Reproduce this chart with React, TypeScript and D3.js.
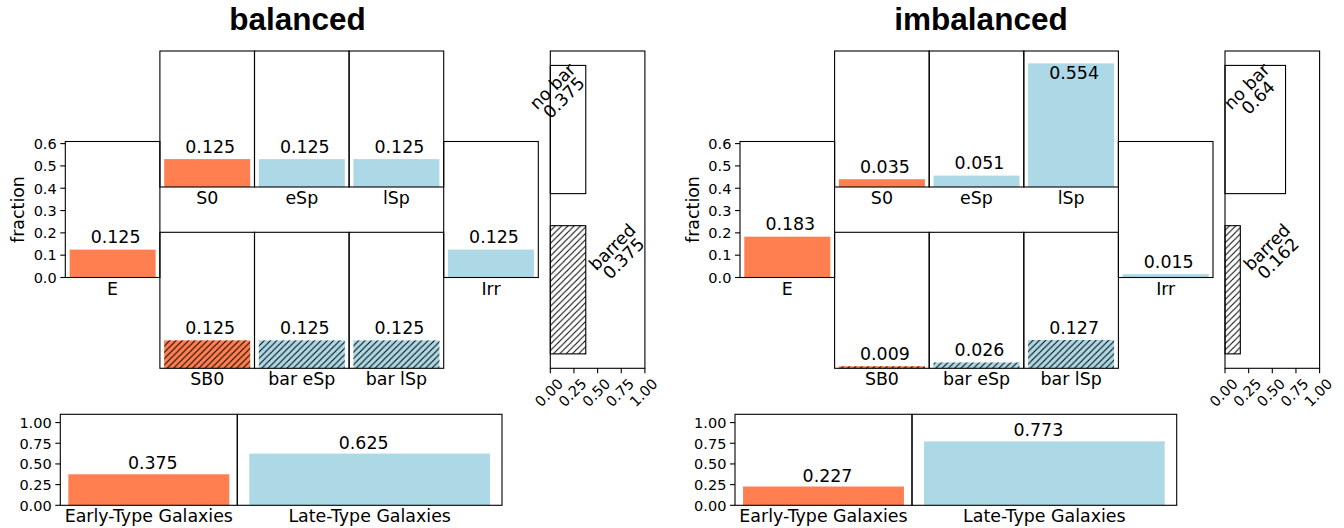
import React from "react";
import * as d3 from "d3";

// Morphological classes and their fractions in each training set
const morphTypes = ["E", "S0", "eSp", "lSp", "SB0", "bar eSp", "bar lSp", "Irr"];
const balancedFractions = [0.125, 0.125, 0.125, 0.125, 0.125, 0.125, 0.125, 0.125];
const imbalancedFractions = [0.183, 0.035, 0.051, 0.554, 0.009, 0.026, 0.127, 0.015];

// Bar / no-bar split
const barClasses = ["no bar", "barred"];
const balancedBarFractions = [0.375, 0.375];
const imbalancedBarFractions = [0.64, 0.162];

// Early / late split
const galaxyClasses = ["Early-Type Galaxies", "Late-Type Galaxies"];
const balancedClassFractions = [0.375, 0.625];
const imbalancedClassFractions = [0.227, 0.773];

const panelTitles = ["balanced", "imbalanced"];

const fractionTicks = [0, 0.1, 0.2, 0.3, 0.4, 0.5, 0.6];
const barTicks = [0, 0.25, 0.5, 0.75, 1];
const classTicks = [0, 0.25, 0.5, 0.75, 1];

// ---- styling & layout ----
const CORAL = "#FF7F50";
const LIGHTBLUE = "#ADD8E6";
const FONT = "'DejaVu Sans', sans-serif";
const FS = 17.4;
const TICK_FS = 14.5;
const SPINE = 1.1;
const Y_MAX = 0.6094;
const COL_W = 94.6;
const ROW_H = 136;
const HATCH = 6.3;

const placement: Record<string, { col: number; row: "top" | "mid" | "bot" }> = {
  E: { col: 0, row: "mid" },
  S0: { col: 1, row: "top" },
  eSp: { col: 2, row: "top" },
  lSp: { col: 3, row: "top" },
  SB0: { col: 1, row: "bot" },
  "bar eSp": { col: 2, row: "bot" },
  "bar lSp": { col: 3, row: "bot" },
  Irr: { col: 4, row: "mid" },
};
const rowTop = { top: 51, mid: 141.5, bot: 232.3 };
const earlyTypes = new Set(["E", "S0", "SB0"]);
const barredTypes = new Set(["SB0", "bar eSp", "bar lSp"]);
const barLabelAlign: Record<string, "left" | "right"> = { "no bar": "right", barred: "left" };
const classLabelShift = [4, -6];

const fmt = (v: number) => String(Math.round(v * 1000) / 1000);

// DejaVu Sans advance widths (em) for label layout
const charW: Record<string, number> = {
  ".": 0.318, " ": 0.318, a: 0.613, b: 0.635, d: 0.635, e: 0.615, n: 0.634, o: 0.612, r: 0.411,
};
const textWidth = (s: string, size: number) =>
  s.split("").reduce((acc, ch) => acc + (/[0-9]/.test(ch) ? 0.636 : charW[ch] ?? 0.6), 0) * size;

// Places a two-line label rotated by 45° so that its bounding box is aligned to an anchor
function rotatedOrigin(lines: string[], ax: number, ay: number, ha: "left" | "right") {
  const A = 13.2, D = 3.6, LS = 16, c = Math.SQRT1_2;
  let minX = Infinity, maxX = -Infinity, minY = Infinity;
  lines.forEach((s, i) => {
    const w = textWidth(s, FS);
    for (const u of [-w / 2, w / 2])
      for (const v of [i * LS - A, i * LS + D]) {
        const sx = c * (u + v), sy = c * (v - u);
        minX = Math.min(minX, sx);
        maxX = Math.max(maxX, sx);
        minY = Math.min(minY, sy);
      }
  });
  return { gx: ha === "right" ? ax - maxX : ax - minX, gy: ay - minY, LS };
}

type PanelProps = {
  ox: number;
  titleX: number;
  title: string;
  fractions: number[];
  barFractions: number[];
  classFractions: number[];
};

function Panel({ ox, titleX, title, fractions, barFractions, classFractions }: PanelProps) {
  const gridX0 = 65.3 + ox;

  // Horizontal bar axes
  const bx0 = 550.3 + ox, by0 = 51, by1 = 368.3;
  const bx = d3.scaleLinear().domain([0, 1]).range([bx0, bx0 + COL_W]);
  const byS = d3.scaleLinear().domain([-0.49, 1.49]).range([by1, by0]);

  // Early/late axes
  const cy0 = 414.3, cy1 = 505.3;
  const cy = d3.scaleLinear().domain([0, 1.1]).range([cy1, cy0]);
  const classBounds = [
    [60.3 + ox, 237.3 + ox],
    [237.3 + ox, 502 + ox],
  ];

  return (
    <g>
      <text x={titleX} y={30} textAnchor="middle" fontFamily="'Liberation Sans', Arial, sans-serif"
        fontWeight="bold" fontSize={31.5}>{title}</text>

      {/* morphology grid */}
      {morphTypes.map((t, i) => {
        const p = placement[t];
        const x0 = gridX0 + p.col * COL_W;
        const y0 = rowTop[p.row];
        const x = d3.scaleLinear().domain([-0.44, 0.44]).range([x0, x0 + COL_W]);
        const y = d3.scaleLinear().domain([0, Y_MAX]).range([y0 + ROW_H, y0]);
        const v = fractions[i];
        const labelAt = v > 0.5 ? v - 0.1 : v;
        const color = earlyTypes.has(t) ? CORAL : LIGHTBLUE;
        const bw = x(0.4) - x(-0.4);
        return (
          <g key={t}>
            <rect x={x(-0.4)} y={y(v)} width={bw} height={y(0) - y(v)} fill={color} />
            {barredTypes.has(t) && (
              <rect x={x(-0.4)} y={y(v)} width={bw} height={y(0) - y(v)} fill="url(#hatch)" />
            )}
            <text x={x(0) + 3} y={y(labelAt + 0.01) - 4.1} textAnchor="middle" fontFamily={FONT}
              fontSize={FS}>{fmt(v)}</text>
            <text x={x(0)} y={y(0) + 17} textAnchor="middle" fontFamily={FONT} fontSize={FS}>{t}</text>
            <rect x={x0} y={y0} width={COL_W} height={ROW_H} fill="none" stroke="#000" strokeWidth={SPINE} />
            {p.col === 0 &&
              fractionTicks.map((tk) => (
                <g key={tk}>
                  <line x1={x0 - 5} x2={x0} y1={y(tk)} y2={y(tk)} stroke="#000" strokeWidth={SPINE} />
                  <text x={x0 - 8.6} y={y(tk) + 5.3} textAnchor="end" fontFamily={FONT}
                    fontSize={TICK_FS}>{d3.format(".1f")(tk)}</text>
                </g>
              ))}
            {p.col === 0 && (
              <text transform={`translate(${24 + ox},${(y0 + y0 + ROW_H) / 2}) rotate(-90)`}
                textAnchor="middle" fontFamily={FONT} fontSize={FS}>fraction</text>
            )}
          </g>
        );
      })}

      {/* bar / no bar */}
      {barClasses.map((cls, i) => {
        const pos = barClasses.length - 1 - i;
        const v = barFractions[i];
        const ha = barLabelAlign[cls];
        const ax = ha === "right" ? bx(v > 0.5 ? v - 0.1 : v) + 2.5 : bx(v) + 1;
        const ay = byS(pos + 0.4) - 4;
        const lines = [cls, fmt(v)];
        const { gx, gy, LS } = rotatedOrigin(lines, ax, ay, ha);
        return (
          <g key={cls}>
            <rect x={bx(0)} y={byS(pos + 0.4)} width={bx(v) - bx(0)} height={byS(pos - 0.4) - byS(pos + 0.4)}
              fill={cls === "barred" ? "url(#hatch)" : "#fff"} stroke="#000" strokeWidth={SPINE} />
            <text transform={`translate(${gx},${gy}) rotate(-45)`} textAnchor="middle"
              fontFamily={FONT} fontSize={FS}>
              {lines.map((s, k) => (
                <tspan key={k} x={0} y={k * LS}>{s}</tspan>
              ))}
            </text>
          </g>
        );
      })}
      <rect x={bx0} y={by0} width={COL_W} height={by1 - by0} fill="none" stroke="#000" strokeWidth={SPINE} />
      {barTicks.map((tk) => (
        <g key={tk}>
          <line x1={bx(tk)} x2={bx(tk)} y1={by1} y2={by1 + 5} stroke="#000" strokeWidth={SPINE} />
          <text transform={`translate(${bx(tk) - 1.5},392.5) rotate(-45)`} textAnchor="middle"
            dy="0.364em" fontFamily={FONT} fontSize={TICK_FS}>{d3.format(".2f")(tk)}</text>
        </g>
      ))}

      {/* early / late */}
      {galaxyClasses.map((cls, i) => {
        const [l, r] = classBounds[i];
        const x = d3.scaleLinear().domain([-0.44, 0.44]).range([l, r]);
        const v = classFractions[i];
        return (
          <g key={cls}>
            <rect x={x(-0.4)} y={cy(v)} width={x(0.4) - x(-0.4)} height={cy(0) - cy(v)}
              fill={i === 0 ? CORAL : LIGHTBLUE} />
            <text x={x(0) + classLabelShift[i]} y={cy(v + 0.01) - 4.1} textAnchor="middle"
              fontFamily={FONT} fontSize={FS}>{fmt(v)}</text>
            <text x={x(0)} y={cy1 + 17} textAnchor="middle" fontFamily={FONT} fontSize={FS}>{cls}</text>
            <rect x={l} y={cy0} width={r - l} height={cy1 - cy0} fill="none" stroke="#000" strokeWidth={SPINE} />
          </g>
        );
      })}
      {classTicks.map((tk) => (
        <g key={tk}>
          <line x1={classBounds[0][0] - 5} x2={classBounds[0][0]} y1={cy(tk)} y2={cy(tk)} stroke="#000"
            strokeWidth={SPINE} />
          <text x={classBounds[0][0] - 8.6} y={cy(tk) + 5.3} textAnchor="end" fontFamily={FONT}
            fontSize={TICK_FS}>{d3.format(".2f")(tk)}</text>
        </g>
      ))}
    </g>
  );
}

export default function App() {
  const panels = [
    { ox: 0, titleX: 297.5, fractions: balancedFractions, barFractions: balancedBarFractions,
      classFractions: balancedClassFractions },
    { ox: 674.7, titleX: 981, fractions: imbalancedFractions, barFractions: imbalancedBarFractions,
      classFractions: imbalancedClassFractions },
  ];
  return (
    <svg width={1344} height={528} style={{ position: "absolute", left: 0, top: 0, background: "#fff" }}>
      <defs>
        <pattern id="hatch" patternUnits="userSpaceOnUse" width={HATCH} height={HATCH}>
          <path d={`M0,${HATCH} L${HATCH},0 M-2,2 L2,-2 M${HATCH - 2},${HATCH + 2} L${HATCH + 2},${HATCH - 2}`}
            stroke="#000" strokeWidth={1} />
        </pattern>
      </defs>
      <rect width={1344} height={528} fill="#fff" />
      {panels.map((p, i) => (
        <Panel key={i} title={panelTitles[i]} {...p} />
      ))}
    </svg>
  );
}
